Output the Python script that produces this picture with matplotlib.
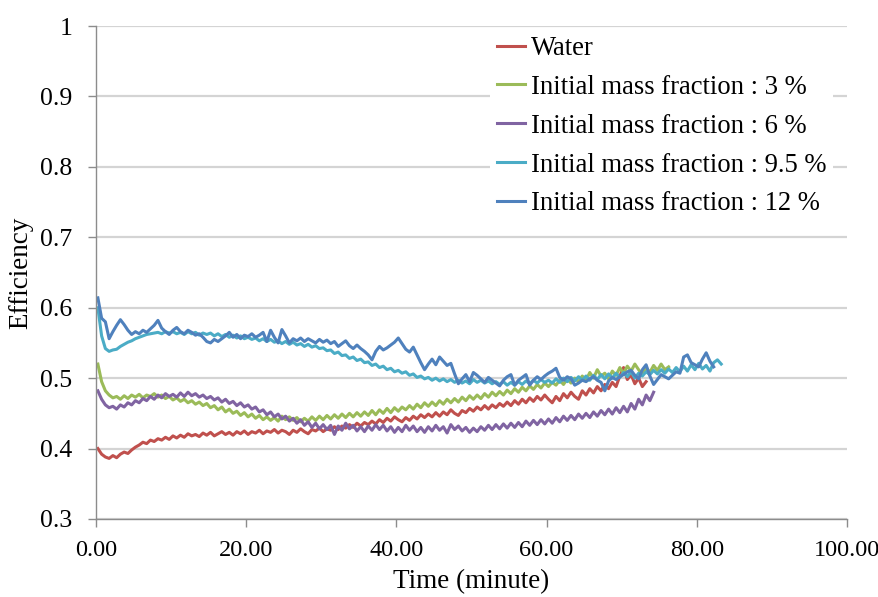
import numpy as np
import matplotlib
matplotlib.use("Agg")
import matplotlib.pyplot as plt

plt.rcParams['font.family'] = ['Liberation Serif', 'DejaVu Serif']

# sample spacing of the logged data (minutes)
t0 = 0.25
dt = 0.5

labels = ["Water",
          "Initial mass fraction : 3 %",
          "Initial mass fraction : 6 %",
          "Initial mass fraction : 9.5 %",
          "Initial mass fraction : 12 %"]
colors = ["#C0504D", "#9BBB59", "#8064A2", "#4BACC6", "#4F81BD"]

water = [
    0.400, 0.392, 0.388, 0.386, 0.390, 0.387, 0.392, 0.395, 0.393, 0.398,
    0.402, 0.405, 0.409, 0.407, 0.412, 0.410, 0.414, 0.412, 0.416, 0.413,
    0.418, 0.415, 0.419, 0.416, 0.421, 0.418, 0.420, 0.417, 0.422, 0.419,
    0.423, 0.418, 0.421, 0.424, 0.420, 0.423, 0.419, 0.424, 0.421, 0.425,
    0.420, 0.424, 0.422, 0.426, 0.421, 0.425, 0.423, 0.427, 0.422, 0.426,
    0.424, 0.420, 0.426, 0.423, 0.428, 0.424, 0.421, 0.427, 0.425, 0.429,
    0.424, 0.428, 0.426, 0.431, 0.427, 0.432, 0.429, 0.434, 0.430, 0.436,
    0.432, 0.437, 0.434, 0.439, 0.435, 0.441, 0.437, 0.443, 0.439, 0.445,
    0.441, 0.438, 0.444, 0.440, 0.446, 0.442, 0.448, 0.444, 0.449, 0.445,
    0.451, 0.446, 0.452, 0.448, 0.455, 0.450, 0.447, 0.454, 0.451, 0.457,
    0.453, 0.459, 0.455, 0.461, 0.456, 0.462, 0.458, 0.464, 0.460, 0.466,
    0.461, 0.468, 0.463, 0.470, 0.465, 0.472, 0.467, 0.474, 0.469, 0.476,
    0.470, 0.465, 0.474, 0.468, 0.478, 0.472, 0.480, 0.474, 0.470, 0.482,
    0.476, 0.485, 0.479, 0.488, 0.482, 0.491, 0.485, 0.494, 0.488, 0.503,
    0.515, 0.498, 0.505, 0.492, 0.500, 0.488, 0.495,
]

mf3 = [
    0.520, 0.495, 0.482, 0.476, 0.472, 0.474, 0.470, 0.475, 0.471, 0.476,
    0.473, 0.477, 0.472, 0.476, 0.474, 0.478, 0.473, 0.476, 0.471, 0.474,
    0.469, 0.472, 0.467, 0.470, 0.465, 0.468, 0.463, 0.466, 0.461, 0.464,
    0.458, 0.461, 0.455, 0.459, 0.452, 0.456, 0.450, 0.453, 0.447, 0.451,
    0.445, 0.449, 0.443, 0.447, 0.441, 0.445, 0.440, 0.444, 0.439, 0.446,
    0.441, 0.445, 0.440, 0.444, 0.438, 0.443, 0.439, 0.445, 0.440, 0.446,
    0.441, 0.447, 0.442, 0.448, 0.443, 0.449, 0.444, 0.450, 0.445, 0.451,
    0.446, 0.452, 0.447, 0.454, 0.448, 0.455, 0.450, 0.457, 0.451, 0.458,
    0.453, 0.459, 0.455, 0.461, 0.456, 0.463, 0.458, 0.465, 0.460, 0.466,
    0.461, 0.468, 0.463, 0.470, 0.465, 0.471, 0.466, 0.473, 0.468, 0.475,
    0.470, 0.476, 0.471, 0.478, 0.473, 0.480, 0.475, 0.481, 0.476, 0.483,
    0.478, 0.485, 0.480, 0.487, 0.482, 0.489, 0.484, 0.491, 0.486, 0.493,
    0.488, 0.494, 0.490, 0.497, 0.491, 0.499, 0.493, 0.500, 0.495, 0.503,
    0.497, 0.508, 0.500, 0.512, 0.503, 0.507, 0.499, 0.510, 0.504, 0.515,
    0.507, 0.517, 0.510, 0.520, 0.512, 0.505, 0.515, 0.508, 0.518, 0.511,
    0.520, 0.512, 0.516,
]

mf6 = [
    0.482, 0.470, 0.462, 0.458, 0.460, 0.456, 0.462, 0.459, 0.465, 0.462,
    0.468, 0.465, 0.471, 0.468, 0.474, 0.470, 0.476, 0.472, 0.478, 0.474,
    0.477, 0.473, 0.479, 0.474, 0.480, 0.475, 0.478, 0.473, 0.476, 0.471,
    0.474, 0.469, 0.472, 0.466, 0.470, 0.464, 0.467, 0.461, 0.465, 0.459,
    0.462, 0.456, 0.459, 0.452, 0.455, 0.448, 0.452, 0.445, 0.449, 0.442,
    0.446, 0.439, 0.443, 0.436, 0.441, 0.433, 0.438, 0.430, 0.436, 0.428,
    0.434, 0.427, 0.433, 0.420, 0.432, 0.426, 0.436, 0.428, 0.433, 0.425,
    0.431, 0.424, 0.432, 0.426, 0.434, 0.427, 0.433, 0.425, 0.431, 0.423,
    0.430, 0.424, 0.433, 0.426, 0.432, 0.424, 0.430, 0.423, 0.431, 0.425,
    0.433, 0.426, 0.431, 0.422, 0.434, 0.427, 0.432, 0.425, 0.430, 0.423,
    0.429, 0.424, 0.431, 0.426, 0.433, 0.427, 0.434, 0.428, 0.435, 0.429,
    0.436, 0.430, 0.437, 0.431, 0.439, 0.433, 0.440, 0.434, 0.441, 0.435,
    0.442, 0.436, 0.444, 0.438, 0.446, 0.440, 0.447, 0.441, 0.449, 0.443,
    0.450, 0.444, 0.452, 0.446, 0.454, 0.448, 0.456, 0.449, 0.458, 0.451,
    0.460, 0.452, 0.464, 0.456, 0.470, 0.462, 0.476, 0.468, 0.480,
]

mf95 = [
    0.600, 0.560, 0.542, 0.538, 0.540, 0.541, 0.545, 0.548, 0.551, 0.553,
    0.556, 0.558, 0.560, 0.562, 0.563, 0.564, 0.565, 0.563, 0.566, 0.564,
    0.566, 0.563, 0.565, 0.562, 0.566, 0.563, 0.565, 0.561, 0.564, 0.562,
    0.564, 0.560, 0.563, 0.559, 0.562, 0.558, 0.561, 0.557, 0.560, 0.556,
    0.558, 0.555, 0.557, 0.553, 0.556, 0.552, 0.555, 0.551, 0.553, 0.549,
    0.552, 0.548, 0.551, 0.547, 0.549, 0.545, 0.548, 0.544, 0.546, 0.542,
    0.543, 0.539, 0.540, 0.535, 0.537, 0.532, 0.533, 0.528, 0.530, 0.525,
    0.527, 0.522, 0.523, 0.518, 0.520, 0.515, 0.517, 0.512, 0.514, 0.509,
    0.511, 0.507, 0.509, 0.504, 0.506, 0.501, 0.503, 0.499, 0.501, 0.497,
    0.500, 0.496, 0.499, 0.495, 0.498, 0.494, 0.497, 0.493, 0.496, 0.492,
    0.498, 0.494, 0.497, 0.493, 0.496, 0.492, 0.495, 0.491, 0.495, 0.490,
    0.494, 0.490, 0.495, 0.491, 0.496, 0.492, 0.497, 0.493, 0.498, 0.494,
    0.497, 0.493, 0.499, 0.494, 0.500, 0.495, 0.501, 0.496, 0.502, 0.497,
    0.503, 0.497, 0.504, 0.498, 0.505, 0.499, 0.506, 0.500, 0.507, 0.501,
    0.508, 0.502, 0.509, 0.500, 0.507, 0.503, 0.509, 0.505, 0.511, 0.506,
    0.512, 0.507, 0.513, 0.508, 0.515, 0.509, 0.517, 0.510, 0.519, 0.512,
    0.521, 0.513, 0.518, 0.510, 0.522, 0.526, 0.520,
]

mf12 = [
    0.614, 0.585, 0.580, 0.556, 0.566, 0.575, 0.583, 0.576, 0.568, 0.562,
    0.566, 0.563, 0.568, 0.565, 0.570, 0.575, 0.582, 0.571, 0.566, 0.562,
    0.568, 0.572, 0.566, 0.563, 0.568, 0.565, 0.561, 0.563, 0.558, 0.552,
    0.550, 0.555, 0.552, 0.556, 0.560, 0.565, 0.558, 0.562, 0.556, 0.561,
    0.559, 0.563, 0.558, 0.561, 0.565, 0.552, 0.568, 0.558, 0.550, 0.569,
    0.560, 0.550, 0.556, 0.553, 0.557, 0.552, 0.556, 0.553, 0.550, 0.555,
    0.551, 0.554, 0.549, 0.552, 0.545, 0.549, 0.553, 0.546, 0.542, 0.547,
    0.542, 0.538, 0.533, 0.526, 0.538, 0.545, 0.540, 0.543, 0.547, 0.551,
    0.557, 0.549, 0.541, 0.537, 0.544, 0.533, 0.522, 0.512, 0.520, 0.527,
    0.519, 0.530, 0.524, 0.518, 0.521, 0.506, 0.492, 0.499, 0.505, 0.495,
    0.508, 0.504, 0.499, 0.494, 0.501, 0.497, 0.493, 0.489, 0.497, 0.502,
    0.505, 0.490, 0.497, 0.501, 0.505, 0.490, 0.497, 0.502, 0.498, 0.503,
    0.507, 0.510, 0.514, 0.501, 0.497, 0.502, 0.499, 0.490, 0.493, 0.497,
    0.495, 0.499, 0.502, 0.497, 0.494, 0.482, 0.496, 0.501, 0.498, 0.502,
    0.505, 0.509, 0.511, 0.504, 0.499, 0.512, 0.519, 0.503, 0.491, 0.498,
    0.505, 0.502, 0.499, 0.504, 0.509, 0.507, 0.530, 0.533, 0.522, 0.519,
    0.516, 0.527, 0.536, 0.524, 0.516,
]

xticks = [0, 20, 40, 60, 80, 100]
yticks = [0.3, 0.4, 0.5, 0.6, 0.7, 0.8, 0.9, 1.0]

fig = plt.figure(figsize=(8.79, 5.97), dpi=100)
ax = fig.add_axes([0.1092, 0.1307, 0.8544, 0.8257])

series = [water, mf3, mf6, mf95, mf12]
for vals, lab, col in zip(series, labels, colors):
    t = t0 + dt * np.arange(len(vals))
    ax.plot(t, vals, color=col, lw=2.2, label=lab, solid_joinstyle='round')

ax.set_xlim(0, 100)
ax.set_ylim(0.3, 1.0)
ax.set_xticks(xticks)
ax.set_xticklabels(["%.2f" % v for v in xticks])
ax.set_yticks(yticks)
ax.set_yticklabels(["%g" % v for v in yticks])

ax.grid(axis='y', color='#d4d4d4', lw=1.6)
ax.set_axisbelow(True)
for s in ['top', 'right']:
    ax.spines[s].set_visible(False)
for s in ['left', 'bottom']:
    ax.spines[s].set_color('#8c8c8c')
    ax.spines[s].set_linewidth(1.0)
ax.tick_params(axis='both', colors='#8c8c8c', length=6, width=1.0,
               labelcolor='black', direction='out')
ax.tick_params(axis='x', labelsize=17.5, pad=9)
ax.tick_params(axis='y', labelsize=18.5, pad=11)

ax.set_xlabel("Time (minute)", fontsize=19.5, labelpad=6)
ax.set_ylabel("Efficiency", fontsize=19.5, labelpad=5)

leg = ax.legend(loc='upper left', bbox_to_anchor=(0.5246, 0.994), fontsize=19.2,
                frameon=True, fancybox=False, edgecolor='none', facecolor='white',
                framealpha=1.0, handlelength=1.05, handletextpad=0.22,
                labelspacing=0.52, borderpad=0.26, borderaxespad=0.0)
for line in leg.get_lines():
    line.set_linewidth(2.2)

fig.savefig("out.png", dpi=100)
